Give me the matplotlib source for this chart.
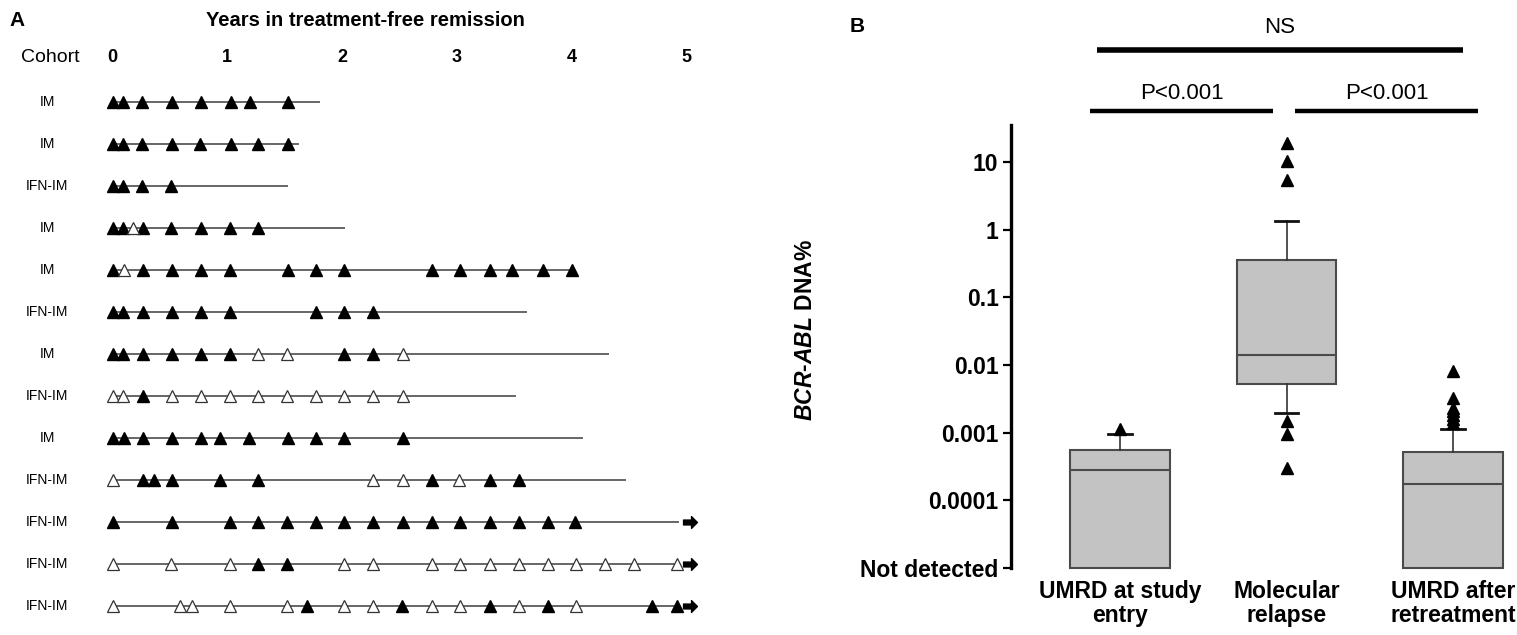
import numpy as np
import matplotlib
matplotlib.use("Agg")
import matplotlib.pyplot as plt
from matplotlib.path import Path

plt.rcParams['font.family'] = ['Liberation Sans Narrow', 'Liberation Sans', 'DejaVu Sans']
plt.rcParams['mathtext.fontset'] = 'custom'
plt.rcParams['mathtext.it'] = 'Liberation Sans:italic:bold'
plt.rcParams['mathtext.rm'] = 'Liberation Sans:bold'
plt.rcParams['mathtext.bf'] = 'Liberation Sans:bold'

# ---------------- panel A data (years in treatment-free remission) ----------------
cohorts = ["IM", "IM", "IFN-IM", "IM", "IM", "IFN-IM", "IM", "IFN-IM", "IM",
           "IFN-IM", "IFN-IM", "IFN-IM", "IFN-IM"]
filled = [
    [0, 0.09, 0.26, 0.52, 0.77, 1.03, 1.20, 1.53],
    [0, 0.09, 0.26, 0.52, 0.76, 1.03, 1.27, 1.53],
    [0, 0.09, 0.26, 0.51],
    [0, 0.09, 0.27, 0.51, 0.77, 1.02, 1.27],
    [0, 0.27, 0.52, 0.77, 1.02, 1.53, 1.77, 2.02, 2.78, 3.03, 3.29, 3.48, 3.75, 4.00],
    [0, 0.09, 0.27, 0.52, 0.77, 1.02, 1.77, 2.02, 2.27],
    [0, 0.09, 0.27, 0.52, 0.77, 1.02, 2.02, 2.27],
    [0.27],
    [0, 0.10, 0.27, 0.52, 0.77, 0.94, 1.19, 1.53, 1.77, 2.02, 2.53],
    [0.27, 0.36, 0.52, 0.94, 1.27, 2.78, 3.29, 3.54],
    [0, 0.52, 1.02, 1.27, 1.52, 1.77, 2.02, 2.27, 2.53, 2.78, 3.03, 3.29, 3.54, 3.79, 4.03],
    [1.27, 1.52],
    [1.69, 2.52, 3.29, 3.79, 4.70, 4.92],
]
opened = [
    [],
    [],
    [],
    [0.18],
    [0.10],
    [],
    [1.27, 1.52, 2.53],
    [0, 0.09, 0.52, 0.77, 1.02, 1.27, 1.52, 1.77, 2.02, 2.27, 2.53],
    [],
    [0, 2.27, 2.53, 3.02],
    [],
    [0, 0.51, 1.02, 2.02, 2.27, 2.78, 3.03, 3.29, 3.54, 3.79, 4.04, 4.29, 4.54, 4.92],
    [0, 0.59, 0.69, 1.02, 1.52, 2.02, 2.27, 2.78, 3.03, 3.54, 4.04],
]
follow_up = [1.80, 1.62, 1.52, 2.02, 4.02, 3.60, 4.32, 3.51, 4.09, 4.46, 4.93, 4.93, 4.93]
ongoing = [False] * 10 + [True] * 3
arrow_year = 5.03
year_ticks = [0, 1, 2, 3, 4, 5]

# ---------------- panel B data (BCR-ABL DNA%) ----------------
groups = ["UMRD at study\nentry", "Molecular\nrelapse", "UMRD after\nretreatment"]
q1 = [1e-5, 0.0052, 1e-5]
med = [2.77e-4, 0.0141, 1.72e-4]
q3 = [5.5e-4, 0.36, 5.1e-4]
whis_lo = [1e-5, 0.00197, 1e-5]
whis_hi = [0.00097, 1.36, 0.00115]
outliers = [
    [0.00115],
    [19.1, 10.3, 5.4, 0.0015, 0.00097, 0.0003],
    [0.0082, 0.0033, 0.0023, 0.0021, 0.0018, 0.0016, 0.0014],
]
ytick_vals = [10, 1, 0.1, 0.01, 0.001, 0.0001, 0.00001]
ytick_labels = ["10", "1", "0.1", "0.01", "0.001", "0.0001", "Not detected"]

W, H = 1517, 635
fig = plt.figure(figsize=(W / 100, H / 100), dpi=100)


def px(x, y):
    # pixel (from top-left) -> figure fraction
    return x / W, 1 - y / H


# ================= Panel A =================
axa = fig.add_axes([0, 0, 760 / W, 1])
x0, yr = 112.5, 114.8          # pixel of year 0, pixels per year
r0, rs = 101.5, 42.0           # pixel of first row, pixels per row
axa.set_xlim(-x0 / yr, (760 - x0) / yr)
axa.set_ylim((H - r0) / rs, -r0 / rs)
axa.axis('off')

arrow_marker = Path([(-1, -0.35), (0.15, -0.35), (0.15, -0.85), (1, 0),
                     (0.15, 0.85), (0.15, 0.35), (-1, 0.35), (-1, -0.35)],
                    [Path.MOVETO] + [Path.LINETO] * 6 + [Path.CLOSEPOLY])

for i, name in enumerate(cohorts):
    axa.plot([0, follow_up[i]], [i, i], color='#666666', lw=1.4, zorder=1)
    axa.plot(filled[i], [i] * len(filled[i]), ls='none', marker='^', ms=8.5,
             mfc='black', mec='black', zorder=3)
    axa.plot(opened[i], [i] * len(opened[i]), ls='none', marker='^', ms=8.5,
             mfc='white', mec='#333333', mew=0.9, zorder=3)
    if ongoing[i]:
        axa.plot([arrow_year], [i], ls='none', marker=arrow_marker, ms=10,
                 color='black', zorder=3)
    axa.text((47 - x0) / yr, i, name, ha='center', va='center', fontsize=10)

for t in year_ticks:
    axa.text(t, (58 - r0) / rs, str(t), ha='center', va='center',
             fontsize=13, fontweight='bold')
axa.text((50 - x0) / yr, (58 - r0) / rs, "Cohort", ha='center', va='center',
         fontsize=14, family=['Liberation Sans', 'DejaVu Sans'])
axa.text((365 - x0) / yr, (20 - r0) / rs, "Years in treatment-free remission",
         ha='center', va='center', fontsize=14.5, fontweight='bold')
fig.text(*px(17, 20), "A", ha='center', va='center', fontsize=15,
         fontweight='bold', family=['Liberation Sans', 'DejaVu Sans'])

# ================= Panel B =================
dec = 67.7                     # pixels per decade
y10 = 162                      # pixel of value 10
top_px, bot_px = 125, 570
left_px, pos_px, step_px = 1011, 1120, 166.5
axb = fig.add_axes([left_px / W, 1 - bot_px / H, (W - left_px) / W, (bot_px - top_px) / H])
axb.set_yscale('log')
axb.set_ylim(10 ** (-5 - 2 / dec), 10 ** (1 + (y10 - top_px) / dec))
axb.set_xlim(1 - (pos_px - left_px) / step_px, 1 + (W - pos_px) / step_px)

stats = []
for k in range(len(groups)):
    stats.append(dict(med=med[k], q1=q1[k], q3=q3[k], whislo=whis_lo[k],
                      whishi=whis_hi[k], fliers=outliers[k]))
bp = axb.bxp(stats, positions=[1, 2, 3], widths=0.6, patch_artist=True,
             showfliers=True, capwidths=0.14,
             boxprops=dict(facecolor='#c3c3c3', edgecolor='#4a4a4a', lw=1.5),
             medianprops=dict(color='#4a4a4a', lw=1.5),
             whiskerprops=dict(color='#333333', lw=1.2),
             capprops=dict(color='#111111', lw=2),
             flierprops=dict(marker='^', mfc='black', mec='black', ms=8, ls='none'))
for k in range(len(groups)):
    if whis_lo[k] == q1[k]:
        bp['caps'][2 * k].set_visible(False)
for b in bp['boxes']:
    b.set_clip_on(False)

for s in ['top', 'right', 'bottom']:
    axb.spines[s].set_visible(False)
axb.spines['left'].set_linewidth(2.4)
axb.spines['left'].set_bounds(1e-5, axb.get_ylim()[1])
axb.set_yticks(ytick_vals, ytick_labels)
axb.yaxis.set_minor_locator(matplotlib.ticker.NullLocator())
axb.tick_params(axis='y', length=6, width=1.6, labelsize=16.5, pad=3)
for lab in axb.get_yticklabels():
    lab.set_fontweight('bold')
axb.set_xticks([1, 2, 3], groups)
axb.tick_params(axis='x', length=0, labelsize=16.5, pad=7)
for lab in axb.get_xticklabels():
    lab.set_fontweight('bold')
    lab.set_linespacing(1.05)

fig.text(*px(806, 330), r'$\mathit{BCR}$-$\mathit{ABL}$ DNA%', rotation=90,
         ha='center', va='center', fontsize=16.5, fontweight='bold',
         family=['Liberation Sans', 'DejaVu Sans'])


def ypix(p):
    return 10 ** (1 + (y10 - p) / dec)


def xpos(p):
    return 1 + (p - pos_px) / step_px


sig_bars = [(1097, 1463, 50, 4.0, "NS", 27), (1090, 1273, 111, 3.2, "P<0.001", 93),
            (1295, 1478, 111, 3.2, "P<0.001", 93)]
for xa, xb, yb, lw, label, yt in sig_bars:
    axb.plot([xpos(xa), xpos(xb)], [ypix(yb), ypix(yb)], color='black', lw=lw,
             clip_on=False, solid_capstyle='butt')
    axb.text((xpos(xa) + xpos(xb)) / 2, ypix(yt), label, ha='center', va='center',
             fontsize=16, clip_on=False)

fig.text(*px(857, 26), "B", ha='center', va='center', fontsize=15,
         fontweight='bold', family=['Liberation Sans', 'DejaVu Sans'])

fig.savefig("out.png", dpi=100)
